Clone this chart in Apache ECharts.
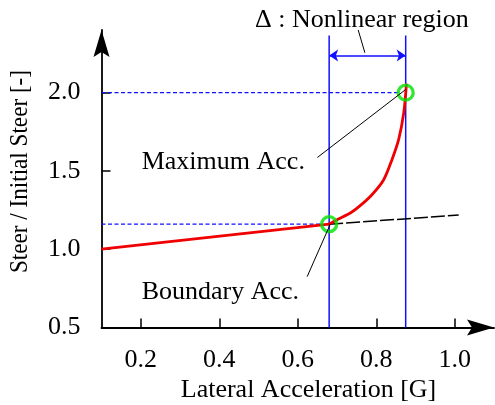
<!DOCTYPE html>
<html>
<head>
<meta charset="utf-8">
<script src="https://cdn.jsdelivr.net/npm/echarts@6/dist/echarts.min.js"></script>
<style>html,body{margin:0;padding:0;background:#fff;}#c{width:495px;height:405px;}</style>
</head>
<body>
<div id="c"></div>
<script>
// ---- data ----
const xTickValues = [0.2, 0.4, 0.6, 0.8, 1.0];
const yTickValues = [0.5, 1.0, 1.5, 2.0];
const yTickMarks = [1.0, 1.5, 2.0];
const linearPartAcc = [0.1, 0.68];
const linearPartRatio = [1.0, 1.16];
const steerAcc = [0.68, 0.70, 0.734, 0.759, 0.789, 0.819, 0.840, 0.857, 0.870, 0.877];
const steerRatio = [1.16, 1.188, 1.231, 1.278, 1.348, 1.444, 1.572, 1.70, 1.87, 2.058];
const linearAcc = [0.68, 1.01];
const linearRatio = [1.16, 1.218];
const boundaryPoint = [0.68, 1.16];
const maximumPoint = [0.875, 2.0];
const boundaryDotAcc = [0.1, 0.657];
const maximumDotAcc = [0.1, 0.855];
const regionLineRatio = [0.5, 2.365];
const regionArrowRatio = 2.237;
const maxLeader = [[0.650, 1.586], [0.875, 2.02]];
const boundaryLeader = [[0.624, 0.825], [0.683, 1.16]];
const deltaLeader = [[0.771, 2.255], [0.754, 2.40]];
const labels = {
  x: 'Lateral Acceleration [G]',
  y: 'Steer / Initial Steer [-]',
  max: 'Maximum Acc.',
  boundary: 'Boundary Acc.',
  delta: '\u0394 : Nonlinear region'
};

const FONT = "'Liberation Serif','Times New Roman',serif";
const BLUE = '#1010ff';
const RED = '#f00000';
const arrowPath = 'path://M0,0 L8,27 L0,22 L-8,27 Z';

function pairs(xs, ys) { return xs.map((x, i) => [x, ys[i]]); }

const chart = echarts.init(document.getElementById('c'), null, {renderer: 'canvas'});
const plainLine = (data, color, width, type, z) => ({
  type: 'line', data, symbol: 'none', silent: true, animation: false, z,
  lineStyle: {color, width, type}
});

const redCurve = plainLine(pairs(steerAcc, steerRatio), RED, 2.8, 'solid', 4);
redCurve.smooth = 0.3;

chart.setOption({
  animation: false,
  grid: {left: 101.5, right: 1, top: 30, bottom: 77.5},
  xAxis: {
    type: 'value', min: 0.1, max: 1.1,
    splitLine: {show: false},
    axisLine: {lineStyle: {color: '#000', width: 1.8}, symbol: ['none', arrowPath], symbolSize: [17, 27], symbolOffset: [0, -13.5]},
    axisTick: {inside: true, length: 9, lineStyle: {color: '#000', width: 1.5}, customValues: xTickValues},
    axisLabel: {margin: 20, color: '#000', fontFamily: FONT, fontSize: 26, customValues: xTickValues, formatter: v => v.toFixed(1)}
  },
  yAxis: {
    type: 'value', min: 0.5, max: 2.4,
    splitLine: {show: false},
    axisLine: {lineStyle: {color: '#000', width: 1.8}, symbol: ['none', arrowPath], symbolSize: [16, 27], symbolOffset: [0, -13.5]},
    axisTick: {inside: true, length: 9, lineStyle: {color: '#000', width: 1.5}, customValues: yTickMarks},
    axisLabel: {margin: 21, color: '#000', fontFamily: FONT, fontSize: 26, padding: [4, 0, 0, 0], customValues: yTickValues, formatter: v => v.toFixed(1)}
  },
  series: [
    plainLine([[maximumDotAcc[0], maximumPoint[1]], [maximumDotAcc[1], maximumPoint[1]]], BLUE, 1.4, [4, 2.5], 2),
    plainLine([[boundaryDotAcc[0], boundaryPoint[1]], [boundaryDotAcc[1], boundaryPoint[1]]], BLUE, 1.4, [4, 2.5], 2),
    plainLine([[boundaryPoint[0], regionLineRatio[0]], [boundaryPoint[0], regionLineRatio[1]]], BLUE, 1.5, 'solid', 2),
    Object.assign(plainLine([[maximumPoint[0], regionLineRatio[0]], [maximumPoint[0], regionLineRatio[1]]], BLUE, 1.5, 'solid', 2), {
      markLine: {
        silent: true, animation: false,
        symbol: ['arrow', 'arrow'], symbolSize: [9, 9],
        label: {show: false},
        lineStyle: {color: BLUE, width: 1.5, type: 'solid'},
        data: [[{coord: [boundaryPoint[0], regionArrowRatio]}, {coord: [maximumPoint[0], regionArrowRatio]}]]
      }
    }),
    plainLine(pairs(linearAcc, linearRatio), '#000', 1.5, [14, 3], 3),
    plainLine(pairs(linearPartAcc, linearPartRatio), RED, 2.8, 'solid', 4),
    redCurve,
    {
      type: 'scatter', data: [boundaryPoint, maximumPoint], symbol: 'circle', symbolSize: 15, z: 5, silent: true,
      itemStyle: {color: 'rgba(0,0,0,0)', borderColor: '#00e000', borderWidth: 3.3}
    },
    plainLine(maxLeader, '#000', 1, 'solid', 6),
    plainLine(boundaryLeader, '#000', 1, 'solid', 6),
    plainLine(deltaLeader, '#000', 1, 'solid', 6)
  ],
  graphic: [
    {type: 'text', x: 308.5, y: 390, style: {text: labels.x, font: '26px ' + FONT, fill: '#000', align: 'center', verticalAlign: 'middle'}},
    {type: 'text', x: 20.5, y: 171.5, rotation: Math.PI / 2, scaleX: 0.89,
     style: {text: labels.y, font: '26px ' + FONT, fill: '#000', align: 'center', verticalAlign: 'middle'}},
    {type: 'text', x: 141.7, y: 162, style: {text: labels.max, font: '26px ' + FONT, fill: '#000', align: 'left', verticalAlign: 'middle'}},
    {type: 'text', x: 141.7, y: 292, style: {text: labels.boundary, font: '26px ' + FONT, fill: '#000', align: 'left', verticalAlign: 'middle'}},
    {type: 'text', x: 255, y: 19.7, style: {text: labels.delta, font: '26px ' + FONT, fill: '#000', align: 'left', verticalAlign: 'middle'}}
  ]
});
</script>
</body>
</html>
